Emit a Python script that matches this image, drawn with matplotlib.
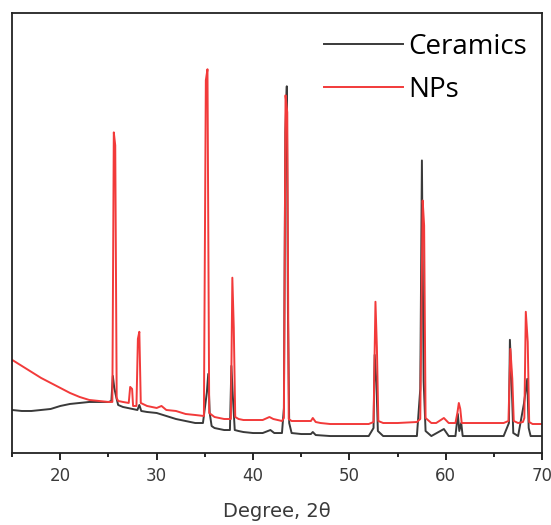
import matplotlib
matplotlib.use("Agg")
import matplotlib.pyplot as plt
from matplotlib.ticker import MultipleLocator

# XRD patterns (2-theta in degrees, intensity in arbitrary units)
ceramics_2theta = [15, 16, 17, 18, 19, 20, 21, 22, 23, 24, 25, 25.3,
                   25.45, 25.6, 25.8, 26, 26.5, 27, 28, 28.2, 28.4, 29, 30, 31, 32, 33, 34, 34.8,
                   35.0, 35.2, 35.35, 35.5, 35.7, 36, 37, 37.6,
                   37.75, 37.9, 38.1, 38.5, 39, 40, 41, 41.8, 42.2, 43,
                   43.2, 43.35, 43.5, 43.62, 43.75, 44, 45, 46, 46.2, 46.5, 48, 50, 52,
                   52.5, 52.62, 52.8, 52.95, 53.5, 55, 57,
                   57.35, 57.52, 57.7, 57.9, 58.5, 59.8, 60.3, 61,
                   61.25, 61.4, 61.6, 61.75, 62, 64, 66,
                   66.55, 66.65, 66.85, 67.0, 67.5,
                   68.1, 68.45, 68.6, 68.8, 70]
ceramics_int = [43, 42, 42, 43, 44, 47, 49, 50, 51, 51, 51, 52,
                77, 65, 56, 48, 46, 45, 43, 48, 42, 41, 40, 37, 34, 32, 30, 30,
                45, 60, 79, 40, 27, 25, 23, 23,
                87, 57, 23, 22, 21, 20, 20, 23, 20, 20,
                45, 320, 366, 140, 30, 20, 19, 19, 21, 18, 17, 17, 17,
                25, 98, 70, 22, 17, 17, 17,
                64, 292, 72, 22, 17, 24, 17, 17,
                39, 22, 30, 17, 17, 17, 17,
                30, 113, 65, 20, 17,
                49, 74, 25, 17, 17]

nps_2theta = [15, 16, 17, 18, 19, 20, 21, 22, 23, 24, 25, 25.4,
              25.55, 25.7, 25.85, 26, 26.5, 27.1, 27.25, 27.45, 27.55, 27.9,
              28.05, 28.2, 28.35, 29, 30, 30.5, 31, 32, 33, 34, 34.9,
              35.1, 35.27, 35.45, 36, 37, 37.7,
              37.85, 38.0, 38.15, 38.5, 39, 40, 41, 41.7, 42.1, 43, 43.2,
              43.37, 43.55, 43.7, 44, 45, 46, 46.2, 46.5, 47, 48, 50, 52, 52.5,
              52.7, 52.85, 53.0, 53.5, 55, 57, 57.35,
              57.6, 57.75, 57.9, 58.5, 59, 59.8, 60.3, 61,
              61.2, 61.35, 61.5, 61.65, 62, 64, 66, 66.5,
              66.7, 66.9, 67.05, 67.5, 68.0, 68.15,
              68.3, 68.5, 68.65, 69, 70]
nps_int = [93, 87, 81, 75, 70, 65, 60, 56, 53, 52, 51, 51,
           320, 307, 55, 52, 51, 50, 66, 64, 47, 47,
           114, 121, 50, 47, 45, 47, 43, 42, 39, 38, 37,
           372, 383, 40, 36, 34, 34,
           175, 125, 36, 34, 33, 33, 33, 36, 34, 32, 35,
           357, 340, 34, 32, 32, 32, 35, 31, 30, 29, 29, 29, 31,
           151, 105, 32, 30, 30, 31, 34,
           252, 227, 35, 30, 30, 35, 30, 30,
           40, 50, 44, 30, 30, 30, 30, 32,
           104, 74, 32, 30, 31, 35,
           141, 111, 31, 29, 29]

fig = plt.figure(figsize=(5.51, 5.25), dpi=100)
ax = fig.add_axes([0.022, 0.137, 0.962, 0.838])

# ceramics underneath, NPs on top
black_line, = ax.plot(ceramics_2theta, ceramics_int, color='#3a3a3a', lw=1.4, label='Ceramics')
red_line, = ax.plot(nps_2theta, nps_int, color='#f23a3a', lw=1.4, label='NPs')

ax.set_xlim(15, 70)
ax.set_ylim(0, 439)
ax.xaxis.set_major_locator(MultipleLocator(10))
ax.xaxis.set_minor_locator(MultipleLocator(5))
ax.set_yticks([])
ax.tick_params(axis='x', which='major', direction='out', length=5, width=1.2,
               labelsize=12, labelcolor='#3a3a3a', pad=5)
ax.tick_params(axis='x', which='minor', direction='out', length=3, width=1.2)
for sp in ax.spines.values():
    sp.set_linewidth(1.3)
    sp.set_color('#222222')

ax.set_xlabel('Degree, 2θ', fontsize=14, color='#3a3a3a', labelpad=12)

ax.legend(handles=[black_line, red_line], loc='upper left', bbox_to_anchor=(0.5876, 0.955),
          frameon=False, prop={'family': 'Open Sans', 'size': 20},
          handlelength=2.85, handletextpad=0.2, labelspacing=0.55,
          borderpad=0, borderaxespad=0)

fig.savefig('out.png', dpi=100)
